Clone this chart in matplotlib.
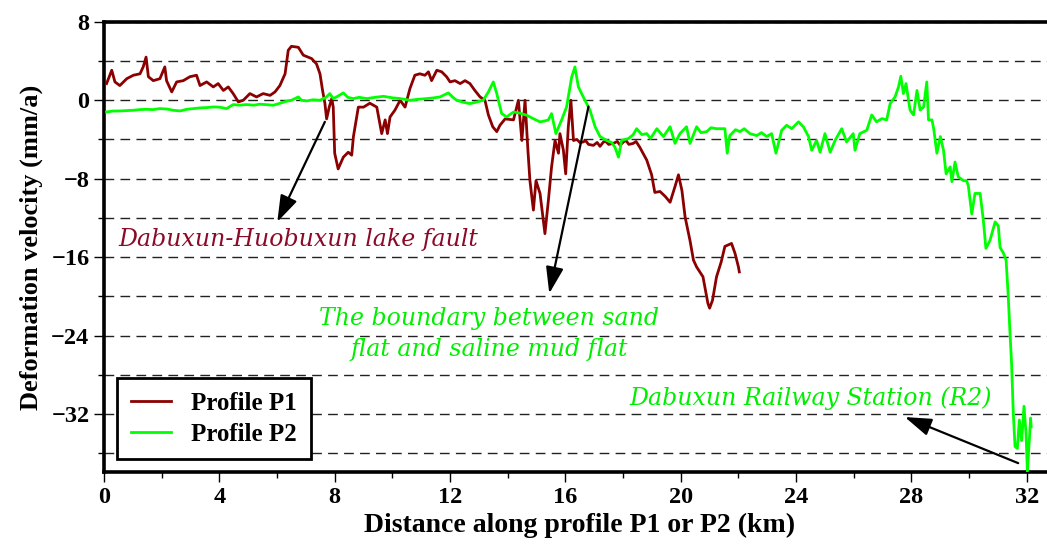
import matplotlib
matplotlib.use("Agg")
import matplotlib.pyplot as plt
from matplotlib.ticker import MultipleLocator

# profile P1 (distance km, velocity mm/a)
p1_x = [0.09, 0.27, 0.38, 0.55, 0.79, 1.02, 1.25, 1.36, 1.46, 1.54, 1.71, 1.94, 2.11, 2.17, 2.35,
        2.52, 2.75, 2.98, 3.21, 3.33, 3.56, 3.79, 3.96, 4.14, 4.31, 4.48, 4.66, 4.83, 5.06, 5.29,
        5.52, 5.76, 5.93, 6.1, 6.28, 6.39, 6.5, 6.74, 6.91, 7.2, 7.37, 7.49, 7.58, 7.66, 7.72,
        7.81, 7.9, 7.95, 8.0, 8.12, 8.3, 8.47, 8.59, 8.65, 8.82, 9.0, 9.22, 9.46, 9.63, 9.75,
        9.83, 9.92, 10.09, 10.27, 10.44, 10.61, 10.78, 10.95, 11.13, 11.25, 11.36, 11.54, 11.71,
        11.88, 12.0, 12.17, 12.35, 12.52, 12.69, 12.86, 13.04, 13.21, 13.33, 13.48, 13.62, 13.73,
        13.91, 14.2, 14.37, 14.49, 14.6, 14.7, 14.77, 14.89, 14.98, 15.12, 15.29, 15.41, 15.52,
        15.64, 15.76, 15.81, 15.93, 16.01, 16.1, 16.19, 16.28, 16.4, 16.5, 16.62, 16.7, 16.8,
        16.97, 17.1, 17.2, 17.32, 17.4, 17.5, 17.66, 17.8, 17.9, 18.01, 18.1, 18.2, 18.35, 18.45,
        18.58, 18.82, 18.99, 19.1, 19.28, 19.46, 19.63, 19.8, 19.92, 20.04, 20.15, 20.32, 20.44,
        20.55, 20.77, 20.94, 21.0, 21.1, 21.24, 21.4, 21.53, 21.76, 21.88, 22.0, 22.03]
p1_y = [1.7, 3.06, 1.87, 1.5, 2.2, 2.55, 2.7, 3.4, 4.4, 2.4, 2.0, 2.2, 3.4, 2.0, 0.85,
        1.87, 2.0, 2.4, 2.55, 1.5, 1.87, 1.36, 1.7, 1.0, 1.36, 0.68, -0.17, 0.0, 0.68, 0.34,
        0.68, 0.5, 0.85, 1.5, 2.7, 5.1, 5.5, 5.4, 4.6, 4.25, 3.7, 2.7, 1.0, -0.3, -1.9,
        -0.7, 0.17, -0.7, -5.4, -7.0, -5.8, -5.3, -5.6, -3.7, -0.7, -0.7, -0.3, -0.7, -3.4, -2.0,
        -3.4, -1.7, -1.0, 0.0, -0.7, 1.2, 2.55, 2.7, 2.55, 2.9, 2.0, 3.06, 2.9,
        2.4, 1.87, 2.0, 1.7, 2.0, 1.7, 1.0, 0.34, 0.0, -1.5, -2.7, -3.2, -2.55,
        -1.9, -2.0, 0.0, -4.1, 0.0, -5.1, -8.2, -11.2, -8.2, -9.5, -13.6, -10.2, -6.8,
        -4.1, -5.4, -3.4, -5.1, -7.5, -2.7, 0.0, -4.1, -4.0, -4.3, -4.25, -4.1, -4.5,
        -4.6, -4.3, -4.7, -4.25, -4.2, -4.5, -4.4, -4.2, -4.6, -4.25, -4.1, -4.5, -4.4, -4.2,
        -4.8, -6.1, -7.6, -9.4, -9.3, -9.8, -10.4, -8.8, -7.6, -9.2, -11.9, -14.3, -16.3,
        -17.0, -18.0, -20.7, -21.2, -20.4, -18.0, -16.5, -14.9, -14.6, -15.6, -17.0, -17.5]

# profile P2
p2_x = [0.09, 0.3, 0.55, 0.8, 1.02, 1.25, 1.48, 1.7, 1.94, 2.2, 2.4, 2.64, 2.87, 3.1, 3.33,
        3.55, 3.79, 4.0, 4.25, 4.48, 4.7, 4.94, 5.2, 5.4, 5.65, 5.87, 6.1, 6.33, 6.5, 6.74,
        6.85, 7.03, 7.25, 7.49, 7.7, 7.83, 7.95, 8.1, 8.3, 8.45, 8.65, 8.85, 9.11, 9.4, 9.69,
        10.0, 10.27, 10.61, 10.9, 11.19, 11.45, 11.65, 11.94, 12.1, 12.23, 12.45, 12.69, 12.9,
        13.15, 13.33, 13.5, 13.62, 13.79, 13.96, 14.2, 14.4, 14.66, 14.9, 15.12, 15.3, 15.41,
        15.52, 15.67, 15.87, 16.04, 16.22, 16.33, 16.45, 16.62, 16.85, 17.03, 17.2, 17.43, 17.6,
        17.72, 17.84, 17.95, 18.19, 18.35, 18.47, 18.65, 18.82, 18.95, 19.17, 19.4, 19.63, 19.8,
        19.97, 20.2, 20.32, 20.55, 20.7, 20.9, 21.05, 21.24, 21.53, 21.61, 21.7, 21.9, 22.05,
        22.2, 22.4, 22.63, 22.8, 22.98, 23.15, 23.3, 23.5, 23.67, 23.85, 24.08, 24.25, 24.43,
        24.54, 24.71, 24.83, 25.0, 25.18, 25.35, 25.58, 25.75, 25.98, 26.04, 26.21, 26.45, 26.62,
        26.79, 26.97, 27.14, 27.26, 27.43, 27.55, 27.63, 27.72, 27.81, 27.95, 28.07, 28.19, 28.3,
        28.42, 28.53, 28.59, 28.71, 28.77, 28.88, 29.0, 29.11, 29.2, 29.34, 29.4, 29.51, 29.62,
        29.8, 29.91, 29.97, 30.09, 30.2, 30.38, 30.49, 30.58, 30.72, 30.9, 31.01, 31.07, 31.19,
        31.28, 31.35, 31.41, 31.47, 31.53, 31.59, 31.67, 31.74, 31.82, 31.9, 31.97, 32.02, 32.08,
        32.13, 32.15]
p2_y = [-1.19, -1.1, -1.09, -1.05, -1.02, -0.95, -0.92, -0.95, -0.85, -0.9, -1.02, -1.09, -0.92, -0.85, -0.78,
        -0.75, -0.68, -0.7, -0.85, -0.44, -0.5, -0.44, -0.5, -0.4, -0.45, -0.51, -0.3, -0.1, 0.0, 0.34,
        0.0, -0.07, 0.05, 0.0, 0.3, 0.68, 0.17, 0.4, 0.75, 0.3, 0.17, 0.3, 0.17, 0.3, 0.4,
        0.25, 0.17, 0.0, 0.1, 0.17, 0.25, 0.34, 0.75, 0.3, 0.0, -0.2, -0.34, -0.2,
        0.0, 0.85, 1.87, 0.68, -1.36, -1.7, -1.2, -1.3, -1.53, -1.9, -2.2, -2.1, -2.0,
        -1.36, -3.4, -2.0, -0.68, 2.4, 3.4, 1.36, 0.34, -1.0, -2.7, -3.7, -4.1, -4.3,
        -4.8, -5.8, -4.1, -3.9, -3.5, -2.9, -3.5, -3.4, -3.9, -2.9, -3.7, -2.7, -4.4,
        -3.4, -2.7, -4.4, -2.7, -3.3, -3.2, -2.8, -2.9, -2.9, -5.4, -3.6, -3.0, -3.2,
        -2.9, -3.4, -3.6, -3.3, -3.7, -3.4, -5.4, -3.06, -2.55, -2.9, -2.2, -2.7, -3.7,
        -5.1, -4.1, -5.3, -3.4, -5.3, -4.1, -2.9, -4.25, -3.4, -5.1, -3.4, -3.06, -1.5,
        -2.2, -1.87, -2.0, -0.34, 0.34, 1.36, 2.45, 0.68, 1.7, -1.0, -1.5, 1.0, -1.0,
        -0.68, 1.87, -2.0, -2.0, -2.9, -5.4, -3.7, -5.1, -7.5, -6.8, -8.3, -6.3, -7.8,
        -8.2, -8.2, -8.7, -11.6, -9.5, -9.5, -12.2, -15.1, -14.3, -12.4, -12.8, -15.0, -15.6,
        -16.3, -19.7, -23.4, -26.8, -31.9, -35.3, -35.5, -32.6, -34.7, -31.2, -33.9, -37.9, -35.0,
        -32.4, -33.3]

y_major = [8, 0, -8, -16, -24, -32]
x_major = [0, 4, 8, 12, 16, 20, 24, 28, 32]

plt.rcParams['font.family'] = ['Liberation Serif', 'DejaVu Serif']

fig = plt.figure(figsize=(10.47, 5.45), dpi=100)
ax = fig.add_axes([0.0993, 0.134, 0.909, 0.826])

ax.plot(p1_x, p1_y, color='#8b0000', lw=2.0, label='Profile P1', zorder=3)
ax.plot(p2_x, p2_y, color='#00ff00', lw=2.0, label='Profile P2', zorder=3)

ax.set_xlim(0, 33)
ax.set_ylim(-37.9, 8)
ax.set_xticks(x_major)
ax.set_yticks(y_major)
ax.xaxis.set_minor_locator(MultipleLocator(2))
ax.yaxis.set_minor_locator(MultipleLocator(4))
ax.grid(True, axis='y', which='both', color='#222222', ls=(0, (7, 4.5)), lw=1.0)
ax.set_axisbelow(True)

for s in ['left', 'bottom', 'top']:
    ax.spines[s].set_linewidth(2.6)
ax.spines['right'].set_visible(False)
ax.tick_params(axis='both', which='major', direction='out', length=7, width=1,
               labelsize=17.5)
ax.tick_params(axis='both', which='minor', direction='out', length=4, width=1)
for lab in ax.get_xticklabels() + ax.get_yticklabels():
    lab.set_fontweight('bold')

ax.set_xlabel('Distance along profile P1 or P2 (km)', fontsize=20, fontweight='bold',
              labelpad=4)
ax.set_ylabel('Deformation velocity (mm/a)', fontsize=19, fontweight='bold', labelpad=6)

arrow = dict(arrowstyle='-|>,head_length=0.9,head_width=0.3', color='black', lw=1.6,
             mutation_scale=18, shrinkA=0, shrinkB=0)
ax.annotate('', xy=(6.01, -12.4), xytext=(7.66, -2.2), arrowprops=arrow)
ax.annotate('', xy=(15.44, -19.7), xytext=(16.8, -0.64), arrowprops=arrow)
ax.annotate('', xy=(27.77, -32.3), xytext=(31.7, -37.0), arrowprops=arrow)

note = dict(family='DejaVu Serif', style='italic', fontsize=17)
ax.text(0.49, -14.2, 'Dabuxun-Huobuxun lake fault', color='#8b0a28', ha='left',
        va='center', **note)
ax.text(13.35, -23.8, 'The boundary between sand\nflat and saline mud flat', color='#00ee00',
        ha='center', va='center', linespacing=1.45, **note)
ax.text(24.5, -30.4, 'Dabuxun Railway Station (R2)', color='#00ee00', ha='center',
        va='center', **note)

leg = ax.legend(loc='lower left', bbox_to_anchor=(0.014, 0.028),
                prop={'weight': 'bold', 'size': 18}, frameon=True, fancybox=False,
                handlelength=1.6, borderpad=0.55, labelspacing=0.3, handletextpad=0.8,
                borderaxespad=0)
leg.get_frame().set_edgecolor('black')
leg.get_frame().set_linewidth(2.0)
leg.get_frame().set_alpha(1)

fig.savefig('out.png', dpi=100)
